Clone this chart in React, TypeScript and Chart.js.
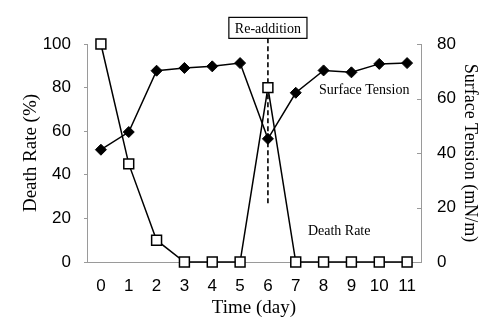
import React, { useEffect, useRef } from "react";
import { Chart, registerables } from "chart.js";

Chart.register(...registerables);

// ---- data ----
const days = ["0", "1", "2", "3", "4", "5", "6", "7", "8", "9", "10", "11"];
const deathRate = [100, 45, 10, 0, 0, 0, 80, 0, 0, 0, 0, 0];
const surfaceTension = [41.2, 47.7, 70.2, 71.2, 71.8, 73.0, 45.2, 62.1, 70.3, 69.6, 72.7, 73.0];
const deathRateRange = [0, 100];
const tensionRange = [0, 80];
const tickStep = 20;

const xTitle = "Time (day)";
const leftTitle = "Death Rate (%)";
const rightTitle = "Surface Tension (mN/m)";

// annotation (in data units: category index / death-rate value)
const annotationText = "Re-addition";
const annotationDay = 6;
const annotationBoxValue = 107.4;
const annotationLineEnd = 25.7;

const seriesLabelTexts = ["Surface Tension", "Death Rate"];
const seriesLabelDays = [9.46, 8.56];
const seriesLabelValues = [78.6, 13.9];

const AXIS_GRAY = "#9a9a9a";
const SANS = "'Liberation Sans', Arial, sans-serif";
const SERIF = "'Liberation Serif', 'Times New Roman', serif";

const annotationPlugin = {
  id: "annotations",
  beforeDatasetsDraw(chart: any) {
    const { ctx } = chart;
    const x = chart.scales.x.getPixelForValue(annotationDay);
    const y = chart.scales.y;
    const boxCenter = y.getPixelForValue(annotationBoxValue);
    const top = boxCenter + 10.5;
    const bottom = y.getPixelForValue(annotationLineEnd);
    ctx.save();
    ctx.strokeStyle = "#000";
    ctx.lineWidth = 1.6;
    ctx.setLineDash([5, 3]);
    ctx.beginPath();
    ctx.moveTo(x, top);
    ctx.lineTo(x, bottom);
    ctx.stroke();
    ctx.restore();
  },
  afterDatasetsDraw(chart: any) {
    const { ctx } = chart;
    const xs = chart.scales.x;
    const y = chart.scales.y;
    const y1 = chart.scales.y1;
    ctx.save();
    // series labels
    ctx.fillStyle = "#000";
    ctx.font = `14px ${SERIF}`;
    ctx.textAlign = "center";
    ctx.textBaseline = "middle";
    seriesLabelTexts.forEach((t, i) => {
      ctx.fillText(t, xs.getPixelForValue(seriesLabelDays[i]), y.getPixelForValue(seriesLabelValues[i]));
    });
    // annotation box
    const cx = xs.getPixelForValue(annotationDay);
    const cy = y.getPixelForValue(annotationBoxValue);
    ctx.font = `14px ${SERIF}`;
    const w = ctx.measureText(annotationText).width + 12;
    const h = 21;
    ctx.fillStyle = "#fff";
    ctx.fillRect(cx - w / 2, cy - h / 2, w, h);
    ctx.strokeStyle = "#000";
    ctx.lineWidth = 1.2;
    ctx.strokeRect(cx - w / 2, cy - h / 2, w, h);
    ctx.fillStyle = "#000";
    ctx.fillText(annotationText, cx, cy + 1);
    // inward tick marks on right axis
    ctx.strokeStyle = AXIS_GRAY;
    ctx.lineWidth = 1;
    y1.ticks.forEach((t: any) => {
      const py = Math.round(y1.getPixelForValue(t.value)) + 0.5;
      ctx.beginPath();
      ctx.moveTo(chart.chartArea.right, py);
      ctx.lineTo(chart.chartArea.right - 4, py);
      ctx.stroke();
    });
    ctx.restore();
  },
};

export default function App() {
  const ref = useRef<HTMLCanvasElement | null>(null);
  useEffect(() => {
    if (!ref.current) return;
    const chart = new Chart(ref.current, {
      type: "line",
      data: {
        labels: days,
        datasets: [
          {
            label: "Death Rate",
            data: deathRate,
            yAxisID: "y",
            clip: false,
            borderColor: "#000",
            borderWidth: 1.5,
            tension: 0,
            pointStyle: "rect",
            pointRadius: 7,
            pointBackgroundColor: "#fff",
            pointBorderColor: "#000",
            pointBorderWidth: 1.5,
          },
          {
            label: "Surface Tension",
            data: surfaceTension,
            yAxisID: "y1",
            clip: false,
            borderColor: "#000",
            borderWidth: 1.5,
            tension: 0,
            pointStyle: "rectRot",
            pointRadius: 5.5,
            pointBackgroundColor: "#000",
            pointBorderColor: "#000",
            pointBorderWidth: 1,
          },
        ],
      },
      options: {
        animation: false,
        responsive: false,
        layout: { padding: { top: 44, left: 0, right: 0, bottom: 0 } },
        plugins: { legend: { display: false }, tooltip: { enabled: false } },
        scales: {
          x: {
            type: "category",
            offset: true,
            grid: { display: true, drawOnChartArea: false, drawTicks: false },
            border: { display: true, color: AXIS_GRAY },
            ticks: { color: "#000", font: { family: SANS, size: 17 }, padding: 14, maxRotation: 0, autoSkip: false },
            title: { display: true, text: xTitle, color: "#000", font: { family: SERIF, size: 19 }, padding: { top: 0, bottom: 3 } },
            afterFit: (s: any) => { s.height = 60; },
          },
          y: {
            position: "left",
            min: deathRateRange[0],
            max: deathRateRange[1],
            ticks: { stepSize: tickStep, color: "#000", font: { family: SANS, size: 17 }, padding: 13 },
            grid: { drawOnChartArea: false, tickLength: 3, color: AXIS_GRAY },
            border: { display: true, color: AXIS_GRAY },
            title: { display: true, text: leftTitle, color: "#000", font: { family: SERIF, size: 19 }, padding: { top: 20, bottom: 0 } },
            afterFit: (s: any) => { s.width = 87; },
          },
          y1: {
            position: "right",
            min: tensionRange[0],
            max: tensionRange[1],
            ticks: { stepSize: tickStep, color: "#000", font: { family: SANS, size: 17 }, padding: 16 },
            grid: { drawOnChartArea: false, drawTicks: false, color: AXIS_GRAY },
            border: { display: true, color: AXIS_GRAY },
            title: { display: true, text: rightTitle, color: "#000", font: { family: SERIF, size: 18 }, padding: { top: 6, bottom: 0 } },
            afterFit: (s: any) => { s.width = 66; },
          },
        },
      },
      plugins: [annotationPlugin],
    } as any);
    return () => chart.destroy();
  }, []);
  return (
    <div style={{ position: "fixed", left: 0, top: 0, width: 487, height: 322, background: "#fff" }}>
      <canvas ref={ref} width={487} height={322} />
    </div>
  );
}
